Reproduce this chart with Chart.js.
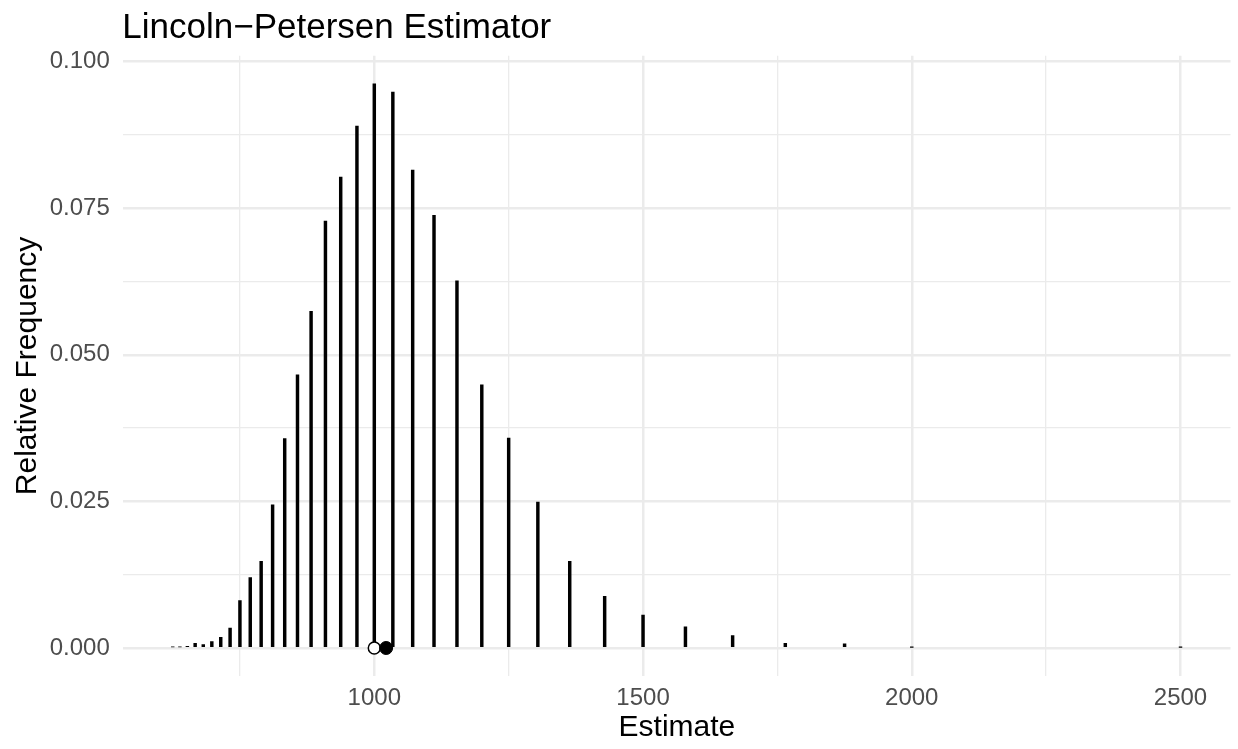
<!DOCTYPE html>
<html>
<head>
<meta charset="utf-8">
<script src="https://cdn.jsdelivr.net/npm/chart.js@4.4.1/dist/chart.umd.min.js"></script>
<style>
  body { margin: 0; background: #fff; }
  #myChart { display: block; }
</style>
</head>
<body>
<canvas id="myChart" width="1238" height="749"></canvas>
<script>
// chart variables
let estimates = [625, 638.3, 652.2, 666.7, 681.8, 697.7, 714.3, 731.7, 750, 769.2, 789.5, 810.8,
    833.3, 857.1, 882.4, 909.1, 937.5, 967.7, 1000, 1034.5, 1071.4, 1111.1, 1153.8, 1200,
    1250, 1304.3, 1363.6, 1428.6, 1500, 1578.9, 1666.7, 1764.7, 1875, 2000, 2500];
let relFreq = [0.0002, 0.0002, 0.0003, 0.0008, 0.0006, 0.0011, 0.0018, 0.0034, 0.0081, 0.0120, 0.0148, 0.0244,
    0.0357, 0.0466, 0.0574, 0.0728, 0.0803, 0.0890, 0.0962, 0.0948, 0.0815, 0.0738, 0.0626, 0.0449,
    0.0358, 0.0249, 0.0148, 0.0088, 0.0056, 0.0036, 0.0021, 0.0008, 0.0007, 0.0001, 0.0001];
let trueN = 1000;
let meanEstimate = 1022;

let xTicks = [750, 1000, 1250, 1500, 1750, 2000, 2250, 2500];
let xLabels = [1000, 1500, 2000, 2500];
let yTicks = [0, 0.0125, 0.025, 0.0375, 0.05, 0.0625, 0.075, 0.0875, 0.1];
let yLabels = [0, 0.025, 0.05, 0.075, 0.1];

let chartTitle = "Lincoln\u2212Petersen Estimator";

let gridColor = "#EBEBEB";

function isLabelled(list, v) {
    for (let i = 0; i < list.length; i++) {
        if (Math.abs(list[i] - v) < 1e-9) return true;
    }
    return false;
}

// title drawn at left edge of the panel, like ggplot
let titlePlugin = {
    id: "panelTitle",
    afterDraw: function(chart) {
        let ctx = chart.ctx;
        ctx.save();
        ctx.fillStyle = "#000";
        ctx.font = "35px 'Liberation Sans', Arial, sans-serif";
        ctx.textAlign = "left";
        ctx.textBaseline = "alphabetic";
        ctx.fillText(chartTitle, chart.chartArea.left - 1, 38);
        ctx.restore();
    }
};

//chart STARTS
let myChart = document.getElementById('myChart').getContext('2d');

Chart.defaults.font.family = "'Liberation Sans', Arial, sans-serif";

var lpChart = new Chart(myChart, {
    type: "bar",
    data: {
        datasets: [
            {
                type: "scatter",
                data: [{x: meanEstimate, y: 0}],
                backgroundColor: "#000",
                borderColor: "#000",
                borderWidth: 1,
                pointRadius: 6.5,
                order: 1
            },
            {
                type: "scatter",
                data: [{x: trueN, y: 0}],
                backgroundColor: "#fff",
                borderColor: "#000",
                borderWidth: 1.5,
                pointRadius: 6,
                order: 2
            },
            {
                type: "bar",
                data: estimates.map(function(e, i) { return {x: e, y: relFreq[i]}; }),
                backgroundColor: "#000",
                barThickness: 2.8,
                order: 3
            }
        ]
    },
    plugins: [titlePlugin],
    options: {
        responsive: false,
        animation: false,
        layout: {
            padding: {top: 55.7, right: 4, bottom: 0, left: 0}
        },
        plugins: {
            legend: {display: false},
            tooltip: {enabled: false}
        },
        scales: {
            x: {
                type: "linear",
                offset: false,
                min: 533,
                max: 2593,
                afterBuildTicks: function(scale) {
                    scale.ticks = xTicks.map(function(v) { return {value: v}; });
                },
                afterFit: function(scale) { scale.height = 72.8; },
                border: {display: false},
                grid: {
                    offset: false,
                    drawTicks: false,
                    color: gridColor,
                    lineWidth: function(c) {
                        return c.tick && isLabelled(xLabels, c.tick.value) ? 2.5 : 1.3;
                    }
                },
                ticks: {
                    padding: 8,
                    maxRotation: 0,
                    autoSkip: false,
                    color: "#4D4D4D",
                    font: {size: 24},
                    callback: function(v) { return isLabelled(xLabels, v) ? String(v) : ""; }
                },
                title: {
                    display: true,
                    text: "Estimate",
                    color: "#000",
                    font: {size: 30},
                    padding: {top: 0, bottom: 3.4}
                }
            },
            y: {
                type: "linear",
                min: -0.00481,
                max: 0.10101,
                afterBuildTicks: function(scale) {
                    scale.ticks = yTicks.map(function(v) { return {value: v}; });
                },
                afterFit: function(scale) { scale.width = 123.3; },
                border: {display: false},
                grid: {
                    drawTicks: false,
                    color: gridColor,
                    lineWidth: function(c) {
                        return c.tick && isLabelled(yLabels, c.tick.value) ? 2.5 : 1.3;
                    }
                },
                ticks: {
                    padding: 13.5,
                    autoSkip: false,
                    color: "#4D4D4D",
                    font: {size: 24},
                    callback: function(v) { return isLabelled(yLabels, v) ? v.toFixed(3) : ""; }
                },
                title: {
                    display: true,
                    text: "Relative Frequency",
                    color: "#000",
                    font: {size: 30},
                    padding: {top: 9.6, bottom: 0}
                }
            }
        }
    }
});
//chart ENDS
</script>
</body>
</html>
